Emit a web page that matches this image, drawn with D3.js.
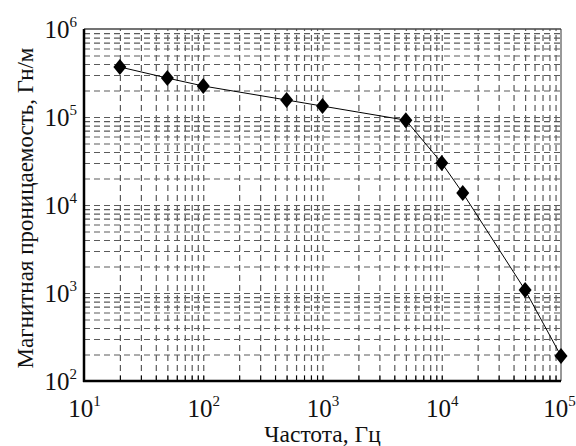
<!DOCTYPE html>
<html><head><meta charset="utf-8">
<script src="https://cdn.jsdelivr.net/npm/d3@7"></script>
<style>body{margin:0;background:#fff}svg{display:block}
svg text{font-family:"Liberation Serif","Times New Roman",serif;}</style>
</head><body>
<script>
const freq = [20, 50, 100, 500, 1000, 5000, 10000, 15000, 50000, 100000];
const permeability = [370000, 277000, 225000, 156000, 133000, 92000, 30000, 13700, 1080, 192];
const xMajorTicks = [1e1, 1e2, 1e3, 1e4, 1e5];
const yMajorTicks = [1e2, 1e3, 1e4, 1e5, 1e6];
const xTitle = "Частота, Гц";
const yTitle = "Магнитная проницаемость, Гн/м";

const FONT = "Liberation Serif";
const W = 576, H = 446;
const m = {left: 84, right: 15, top: 29, bottom: 65};
const w = W - m.left - m.right, h = H - m.top - m.bottom;
const svg = d3.select("body").append("svg").attr("width", W).attr("height", H);
const g = svg.append("g").attr("transform", `translate(${m.left},${m.top})`);

const x = d3.scaleLog().domain([1e1, 1e5]).range([0, w]);
const y = d3.scaleLog().domain([1e2, 1e6]).range([h, 0]);

function allTicks(dom) {
  const out = [];
  for (let e = Math.log10(dom[0]); e < Math.log10(dom[1]); e++)
    for (let k = 1; k <= 9; k++) out.push(k * Math.pow(10, e));
  out.push(dom[1]);
  return out;
}
const xAll = allTicks([1e1, 1e5]).filter(v => v > 1e1 && v < 1e5);
const yAll = allTicks([1e2, 1e6]).filter(v => v > 1e2 && v < 1e6);

// grid
const gx = g.append("g").attr("transform", `translate(0,${h})`)
  .call(d3.axisBottom(x).tickValues(xAll).tickSize(-h).tickFormat(""));
const gy = g.append("g")
  .call(d3.axisLeft(y).tickValues(yAll).tickSize(-w).tickFormat(""));
[gx, gy].forEach(a => {
  a.select(".domain").remove();
  a.selectAll("line").attr("stroke", "#5a5a5a").attr("stroke-width", 1.2)
    .attr("stroke-dasharray", "6,4");
});

// small inward ticks on bottom
const tb = g.append("g").attr("transform", `translate(0,${h})`)
  .call(d3.axisBottom(x).tickValues(xAll).tickSize(-5).tickFormat(""));
tb.select(".domain").remove();
tb.selectAll("line").attr("stroke", "#000");

// box
g.append("line").attr("x1", 0).attr("x2", w).attr("y1", 0).attr("y2", 0).attr("stroke", "#444").attr("stroke-width", 1.5);
g.append("line").attr("x1", w).attr("x2", w).attr("y1", 0).attr("y2", h).attr("stroke", "#333").attr("stroke-width", 1);
g.append("line").attr("x1", 0).attr("x2", 0).attr("y1", 0).attr("y2", h + 1).attr("stroke", "#000").attr("stroke-width", 2.5);
g.append("line").attr("x1", -1).attr("x2", w).attr("y1", h).attr("y2", h).attr("stroke", "#000").attr("stroke-width", 2.5);

function supLabel(sel) {
  sel.each(function(d) {
    const t = d3.select(this);
    t.text(null).attr("font-family", FONT);
    t.append("tspan").attr("font-family", FONT).text("10");
    t.append("tspan").attr("font-family", FONT).attr("dy", "-0.72em").attr("font-size", "15px")
      .text(Math.round(Math.log10(d)));
  });
}

// x labels
const ax = g.append("g").attr("transform", `translate(0,${h})`).attr("font-family", FONT)
  .call(d3.axisBottom(x).tickValues(xMajorTicks).tickSize(0).tickPadding(0));
ax.attr("font-family", FONT);
ax.select(".domain").remove();
ax.selectAll("text").attr("font-size", "25px").attr("fill", "#111")
  .attr("y", 36).attr("dy", 0).attr("text-anchor", "middle")
  .attr("dx", d => d === 1e5 ? -2 : 0).call(supLabel);

// y labels
const ay = g.append("g")
  .call(d3.axisLeft(y).tickValues(yMajorTicks).tickSize(0).tickPadding(0));
ay.attr("font-family", FONT);
ay.select(".domain").remove();
ay.selectAll("text").attr("font-size", "25px").attr("fill", "#111")
  .attr("x", -7).attr("dy", "0.34em").attr("text-anchor", "end").call(supLabel);

// line + markers
const line = d3.line().x((d, i) => x(freq[i])).y(d => y(d));
g.append("path").datum(permeability).attr("d", line).attr("fill", "none")
  .attr("stroke", "#000").attr("stroke-width", 1);
g.selectAll(".pt").data(permeability).join("path")
  .attr("transform", (d, i) => `translate(${x(freq[i])},${y(d)})`)
  .attr("d", "M0,-8L6.5,0L0,8L-6.5,0Z").attr("fill", "#000");

// titles
svg.append("text").attr("x", m.left + w / 2).attr("y", 442).attr("text-anchor", "middle")
  .attr("font-family", FONT).attr("font-size", "23.5px").attr("fill", "#111").text(xTitle);
svg.append("text").attr("transform", `translate(33,${208}) rotate(-90)`)
  .attr("text-anchor", "middle").attr("font-family", FONT).attr("font-size", "23px")
  .attr("fill", "#111").text(yTitle);
</script>
</body></html>
